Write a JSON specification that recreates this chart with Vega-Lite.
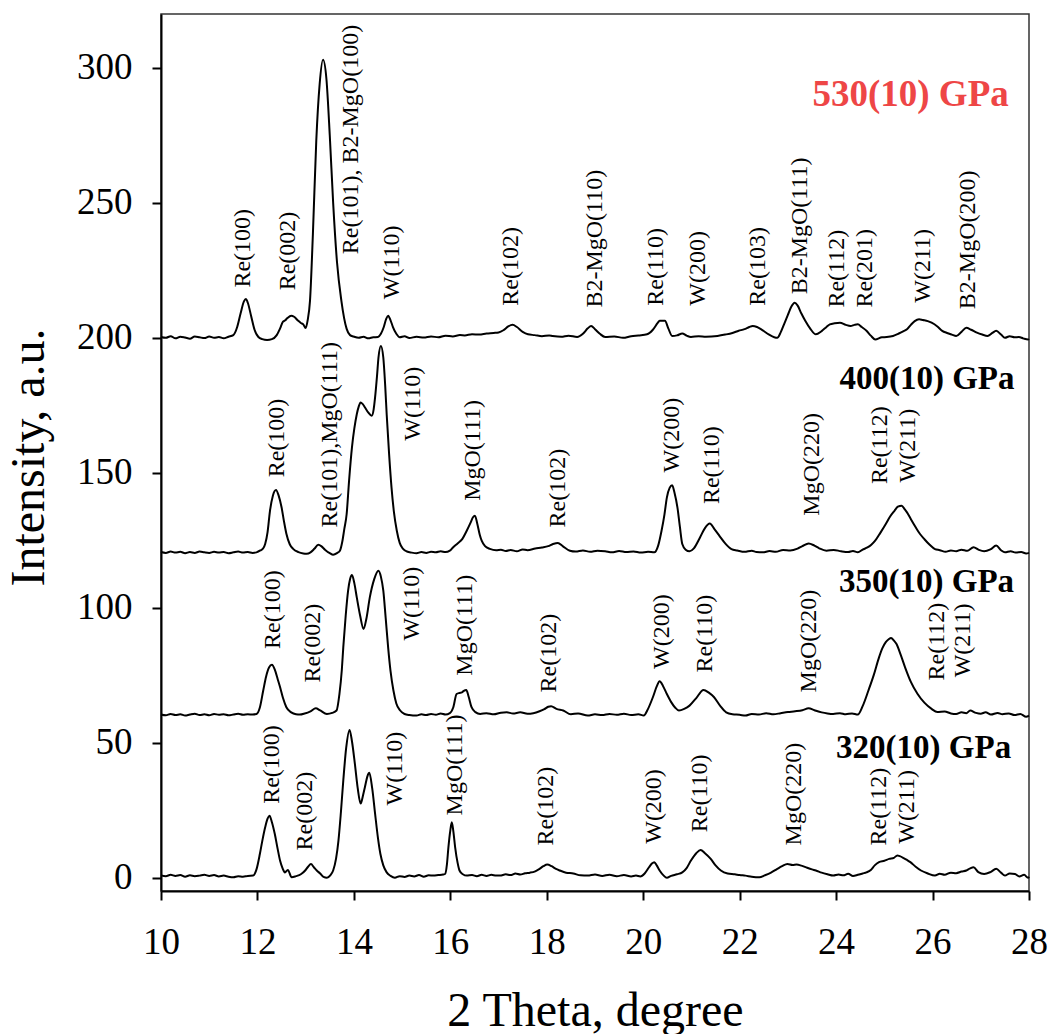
{
  "$schema": "https://vega.github.io/schema/vega-lite/v6.json",
  "autosize": "none",
  "width": 868,
  "height": 877,
  "padding": {"left": 161, "top": 14, "right": 21, "bottom": 143},
  "background": "white",
  "config": {"view": {"stroke": "#333", "strokeWidth": 1.5}},
  "datasets": {
    "spec": [
      {"s":"530","x":10.0,"y":200.3},{"s":"530","x":10.1,"y":200.0},{"s":"530","x":10.2,"y":200.6},{"s":"530","x":10.3,"y":199.8},{"s":"530","x":10.4,"y":200.4},{"s":"530","x":10.5,"y":200.1},{"s":"530","x":10.6,"y":199.7},{"s":"530","x":10.7,"y":200.5},{"s":"530","x":10.8,"y":200.2},{"s":"530","x":10.9,"y":199.9},{"s":"530","x":11.0,"y":200.5},{"s":"530","x":11.1,"y":200.0},{"s":"530","x":11.2,"y":200.3},{"s":"530","x":11.3,"y":199.8},{"s":"530","x":11.4,"y":200.4},{"s":"530","x":11.5,"y":201.0},{"s":"530","x":11.58,"y":204},{"s":"530","x":11.65,"y":209},{"s":"530","x":11.72,"y":213.5},{"s":"530","x":11.76,"y":214.4},{"s":"530","x":11.8,"y":213},{"s":"530","x":11.87,"y":208},{"s":"530","x":11.94,"y":203},{"s":"530","x":12.02,"y":200.3},{"s":"530","x":12.1,"y":199.5},{"s":"530","x":12.2,"y":199.2},{"s":"530","x":12.3,"y":199.5},{"s":"530","x":12.4,"y":201},{"s":"530","x":12.47,"y":203.5},{"s":"530","x":12.53,"y":206},{"s":"530","x":12.57,"y":206.4},{"s":"530","x":12.62,"y":207.3},{"s":"530","x":12.7,"y":208.2},{"s":"530","x":12.76,"y":207.8},{"s":"530","x":12.84,"y":206.4},{"s":"530","x":12.9,"y":205.5},{"s":"530","x":12.95,"y":205},{"s":"530","x":13.0,"y":203.6},{"s":"530","x":13.04,"y":206.4},{"s":"530","x":13.09,"y":213.8},{"s":"530","x":13.15,"y":238.5},{"s":"530","x":13.22,"y":273},{"s":"530","x":13.29,"y":294},{"s":"530","x":13.36,"y":303},{"s":"530","x":13.43,"y":296},{"s":"530","x":13.5,"y":275},{"s":"530","x":13.57,"y":250},{"s":"530","x":13.65,"y":228},{"s":"530","x":13.74,"y":213.8},{"s":"530","x":13.85,"y":203.3},{"s":"530","x":13.92,"y":201},{"s":"530","x":13.99,"y":200.5},{"s":"530","x":14.1,"y":200},{"s":"530","x":14.2,"y":200.4},{"s":"530","x":14.3,"y":199.8},{"s":"530","x":14.4,"y":200.2},{"s":"530","x":14.5,"y":200.3},{"s":"530","x":14.56,"y":201.5},{"s":"530","x":14.62,"y":204},{"s":"530","x":14.67,"y":207},{"s":"530","x":14.71,"y":208.2},{"s":"530","x":14.76,"y":206.5},{"s":"530","x":14.81,"y":204},{"s":"530","x":14.88,"y":201.5},{"s":"530","x":14.95,"y":200.2},{"s":"530","x":15.05,"y":200.6},{"s":"530","x":15.15,"y":199.9},{"s":"530","x":15.3,"y":200.4},{"s":"530","x":15.45,"y":200.1},{"s":"530","x":15.6,"y":200.5},{"s":"530","x":15.75,"y":200.2},{"s":"530","x":15.9,"y":200.8},{"s":"530","x":16.05,"y":200.5},{"s":"530","x":16.2,"y":201},{"s":"530","x":16.3,"y":200.9},{"s":"530","x":16.45,"y":201.3},{"s":"530","x":16.6,"y":201.2},{"s":"530","x":16.75,"y":201.6},{"s":"530","x":16.9,"y":201.8},{"s":"530","x":17.0,"y":202},{"s":"530","x":17.1,"y":202.8},{"s":"530","x":17.2,"y":204.2},{"s":"530","x":17.29,"y":204.8},{"s":"530","x":17.38,"y":204},{"s":"530","x":17.5,"y":202.2},{"s":"530","x":17.61,"y":201.3},{"s":"530","x":17.75,"y":201},{"s":"530","x":17.9,"y":200.6},{"s":"530","x":18.05,"y":200.9},{"s":"530","x":18.12,"y":200.7},{"s":"530","x":18.3,"y":200.4},{"s":"530","x":18.45,"y":200.8},{"s":"530","x":18.63,"y":200.3},{"s":"530","x":18.75,"y":201.5},{"s":"530","x":18.85,"y":203.5},{"s":"530","x":18.92,"y":204.4},{"s":"530","x":19.0,"y":203.2},{"s":"530","x":19.1,"y":201.5},{"s":"530","x":19.21,"y":200.3},{"s":"530","x":19.4,"y":200.5},{"s":"530","x":19.58,"y":200},{"s":"530","x":19.75,"y":200.6},{"s":"530","x":19.9,"y":200.9},{"s":"530","x":20.08,"y":201.3},{"s":"530","x":20.2,"y":203},{"s":"530","x":20.3,"y":205.5},{"s":"530","x":20.34,"y":206.3},{"s":"530","x":20.45,"y":206.3},{"s":"530","x":20.52,"y":203.5},{"s":"530","x":20.6,"y":200.7},{"s":"530","x":20.7,"y":200.9},{"s":"530","x":20.81,"y":201.6},{"s":"530","x":20.9,"y":200.8},{"s":"530","x":20.99,"y":200.3},{"s":"530","x":21.15,"y":200.6},{"s":"530","x":21.3,"y":200.4},{"s":"530","x":21.54,"y":200.7},{"s":"530","x":21.7,"y":201.2},{"s":"530","x":21.85,"y":201.8},{"s":"530","x":21.98,"y":202.6},{"s":"530","x":22.1,"y":203.2},{"s":"530","x":22.2,"y":204},{"s":"530","x":22.27,"y":204.4},{"s":"530","x":22.36,"y":204},{"s":"530","x":22.44,"y":203.2},{"s":"530","x":22.6,"y":201.3},{"s":"530","x":22.78,"y":200},{"s":"530","x":22.85,"y":202},{"s":"530","x":22.92,"y":205},{"s":"530","x":23.0,"y":208.5},{"s":"530","x":23.07,"y":211.5},{"s":"530","x":23.14,"y":213},{"s":"530","x":23.2,"y":212},{"s":"530","x":23.28,"y":209},{"s":"530","x":23.36,"y":206.3},{"s":"530","x":23.46,"y":203.5},{"s":"530","x":23.58,"y":201.3},{"s":"530","x":23.7,"y":202.5},{"s":"530","x":23.8,"y":204},{"s":"530","x":23.87,"y":205},{"s":"530","x":23.97,"y":205.4},{"s":"530","x":24.08,"y":205.6},{"s":"530","x":24.2,"y":204.8},{"s":"530","x":24.3,"y":204.4},{"s":"530","x":24.38,"y":204.8},{"s":"530","x":24.45,"y":205},{"s":"530","x":24.53,"y":204},{"s":"530","x":24.63,"y":202.6},{"s":"530","x":24.72,"y":200.8},{"s":"530","x":24.81,"y":199.4},{"s":"530","x":24.95,"y":200.2},{"s":"530","x":25.05,"y":200.3},{"s":"530","x":25.18,"y":200.7},{"s":"530","x":25.3,"y":201.6},{"s":"530","x":25.4,"y":202.5},{"s":"530","x":25.47,"y":203.2},{"s":"530","x":25.55,"y":204.8},{"s":"530","x":25.63,"y":206.2},{"s":"530","x":25.72,"y":206.9},{"s":"530","x":25.8,"y":206.6},{"s":"530","x":25.9,"y":206.2},{"s":"530","x":25.98,"y":205.6},{"s":"530","x":26.1,"y":204.2},{"s":"530","x":26.2,"y":202.6},{"s":"530","x":26.3,"y":201.8},{"s":"530","x":26.4,"y":201.2},{"s":"530","x":26.49,"y":200.7},{"s":"530","x":26.6,"y":202.2},{"s":"530","x":26.7,"y":203.7},{"s":"530","x":26.8,"y":203},{"s":"530","x":26.92,"y":201.9},{"s":"530","x":27.03,"y":201.2},{"s":"530","x":27.14,"y":200.7},{"s":"530","x":27.24,"y":201.8},{"s":"530","x":27.32,"y":202.6},{"s":"530","x":27.42,"y":201.2},{"s":"530","x":27.5,"y":200},{"s":"530","x":27.6,"y":200.6},{"s":"530","x":27.7,"y":200.2},{"s":"530","x":27.79,"y":200.3},{"s":"530","x":27.88,"y":199.8},{"s":"530","x":27.98,"y":199.4},{"s":"530","x":28.0,"y":199.6},

      {"s":"400","x":10.0,"y":120.6},{"s":"400","x":10.1,"y":120.3},{"s":"400","x":10.2,"y":120.8},{"s":"400","x":10.3,"y":120.4},{"s":"400","x":10.4,"y":120.7},{"s":"400","x":10.5,"y":120.2},{"s":"400","x":10.6,"y":120.6},{"s":"400","x":10.7,"y":120.3},{"s":"400","x":10.8,"y":120.8},{"s":"400","x":10.9,"y":120.5},{"s":"400","x":11.0,"y":120.3},{"s":"400","x":11.1,"y":120.7},{"s":"400","x":11.2,"y":120.4},{"s":"400","x":11.3,"y":120.6},{"s":"400","x":11.4,"y":120.2},{"s":"400","x":11.5,"y":120.5},{"s":"400","x":11.6,"y":120.8},{"s":"400","x":11.7,"y":120.4},{"s":"400","x":11.8,"y":120.6},{"s":"400","x":11.9,"y":120.3},{"s":"400","x":11.98,"y":120.5},{"s":"400","x":12.06,"y":121.2},{"s":"400","x":12.12,"y":122},{"s":"400","x":12.16,"y":123.6},{"s":"400","x":12.21,"y":128},{"s":"400","x":12.26,"y":135.9},{"s":"400","x":12.32,"y":141.5},{"s":"400","x":12.385,"y":143.6},{"s":"400","x":12.44,"y":141.5},{"s":"400","x":12.5,"y":137.2},{"s":"400","x":12.55,"y":132},{"s":"400","x":12.6,"y":127.4},{"s":"400","x":12.67,"y":123.5},{"s":"400","x":12.74,"y":121.8},{"s":"400","x":12.85,"y":120.6},{"s":"400","x":12.95,"y":120.1},{"s":"400","x":13.02,"y":120},{"s":"400","x":13.1,"y":120.5},{"s":"400","x":13.18,"y":121.8},{"s":"400","x":13.26,"y":123.3},{"s":"400","x":13.33,"y":122.7},{"s":"400","x":13.4,"y":121.5},{"s":"400","x":13.5,"y":120.2},{"s":"400","x":13.57,"y":119.6},{"s":"400","x":13.65,"y":120.2},{"s":"400","x":13.71,"y":121.1},{"s":"400","x":13.76,"y":124.5},{"s":"400","x":13.8,"y":129},{"s":"400","x":13.85,"y":134.7},{"s":"400","x":13.9,"y":147},{"s":"400","x":13.96,"y":159.4},{"s":"400","x":14.01,"y":166.5},{"s":"400","x":14.06,"y":171.7},{"s":"400","x":14.1,"y":174.5},{"s":"400","x":14.14,"y":176},{"s":"400","x":14.18,"y":175.5},{"s":"400","x":14.23,"y":174.2},{"s":"400","x":14.3,"y":172.3},{"s":"400","x":14.37,"y":171.1},{"s":"400","x":14.41,"y":173.5},{"s":"400","x":14.44,"y":178},{"s":"400","x":14.48,"y":186},{"s":"400","x":14.51,"y":192.7},{"s":"400","x":14.56,"y":197},{"s":"400","x":14.61,"y":192.7},{"s":"400","x":14.65,"y":182},{"s":"400","x":14.68,"y":171.7},{"s":"400","x":14.73,"y":157},{"s":"400","x":14.78,"y":144.6},{"s":"400","x":14.83,"y":135.5},{"s":"400","x":14.89,"y":128.5},{"s":"400","x":14.95,"y":124},{"s":"400","x":15.02,"y":121.8},{"s":"400","x":15.1,"y":120.8},{"s":"400","x":15.2,"y":120.4},{"s":"400","x":15.3,"y":120.2},{"s":"400","x":15.4,"y":120.6},{"s":"400","x":15.5,"y":120.3},{"s":"400","x":15.6,"y":120.7},{"s":"400","x":15.7,"y":120.5},{"s":"400","x":15.8,"y":120.9},{"s":"400","x":15.9,"y":120.6},{"s":"400","x":15.99,"y":121.1},{"s":"400","x":16.06,"y":122.4},{"s":"400","x":16.15,"y":123.8},{"s":"400","x":16.25,"y":125.5},{"s":"400","x":16.34,"y":128.5},{"s":"400","x":16.42,"y":131.5},{"s":"400","x":16.47,"y":133.5},{"s":"400","x":16.51,"y":134.1},{"s":"400","x":16.56,"y":131},{"s":"400","x":16.61,"y":127},{"s":"400","x":16.65,"y":124.8},{"s":"400","x":16.72,"y":122.8},{"s":"400","x":16.82,"y":121.8},{"s":"400","x":16.95,"y":121.3},{"s":"400","x":17.05,"y":121.5},{"s":"400","x":17.15,"y":121},{"s":"400","x":17.25,"y":121.4},{"s":"400","x":17.38,"y":120.9},{"s":"400","x":17.5,"y":121.6},{"s":"400","x":17.6,"y":121.3},{"s":"400","x":17.76,"y":121.9},{"s":"400","x":17.9,"y":122.3},{"s":"400","x":18.03,"y":122.8},{"s":"400","x":18.13,"y":123.6},{"s":"400","x":18.23,"y":124},{"s":"400","x":18.33,"y":122.8},{"s":"400","x":18.48,"y":121.1},{"s":"400","x":18.6,"y":120.8},{"s":"400","x":18.75,"y":121.2},{"s":"400","x":18.9,"y":120.7},{"s":"400","x":19.05,"y":121.1},{"s":"400","x":19.21,"y":120.9},{"s":"400","x":19.35,"y":120.5},{"s":"400","x":19.5,"y":121},{"s":"400","x":19.65,"y":120.6},{"s":"400","x":19.8,"y":120.8},{"s":"400","x":19.95,"y":120.4},{"s":"400","x":20.1,"y":120.7},{"s":"400","x":20.23,"y":120.5},{"s":"400","x":20.31,"y":123},{"s":"400","x":20.38,"y":128.5},{"s":"400","x":20.44,"y":134.5},{"s":"400","x":20.49,"y":140.8},{"s":"400","x":20.55,"y":144.5},{"s":"400","x":20.6,"y":145.4},{"s":"400","x":20.65,"y":142.5},{"s":"400","x":20.71,"y":137.1},{"s":"400","x":20.76,"y":130},{"s":"400","x":20.81,"y":123.6},{"s":"400","x":20.88,"y":121.5},{"s":"400","x":20.96,"y":120.9},{"s":"400","x":21.05,"y":122},{"s":"400","x":21.18,"y":126.1},{"s":"400","x":21.28,"y":129.5},{"s":"400","x":21.38,"y":131.2},{"s":"400","x":21.48,"y":129},{"s":"400","x":21.58,"y":126.6},{"s":"400","x":21.7,"y":123.8},{"s":"400","x":21.83,"y":121.7},{"s":"400","x":21.95,"y":121.2},{"s":"400","x":22.1,"y":120.7},{"s":"400","x":22.25,"y":121.1},{"s":"400","x":22.35,"y":120.6},{"s":"400","x":22.48,"y":120.5},{"s":"400","x":22.62,"y":121},{"s":"400","x":22.75,"y":120.7},{"s":"400","x":22.9,"y":121.4},{"s":"400","x":23.05,"y":121.2},{"s":"400","x":23.2,"y":121.9},{"s":"400","x":23.3,"y":122.8},{"s":"400","x":23.43,"y":123.8},{"s":"400","x":23.55,"y":123},{"s":"400","x":23.65,"y":122},{"s":"400","x":23.8,"y":121.1},{"s":"400","x":23.95,"y":121.4},{"s":"400","x":24.1,"y":120.9},{"s":"400","x":24.25,"y":120.6},{"s":"400","x":24.35,"y":121},{"s":"400","x":24.45,"y":120.5},{"s":"400","x":24.55,"y":121.5},{"s":"400","x":24.65,"y":122.3},{"s":"400","x":24.73,"y":123.3},{"s":"400","x":24.81,"y":124.8},{"s":"400","x":24.92,"y":127.8},{"s":"400","x":25.03,"y":131},{"s":"400","x":25.12,"y":133.8},{"s":"400","x":25.21,"y":135.9},{"s":"400","x":25.28,"y":137.4},{"s":"400","x":25.36,"y":137.8},{"s":"400","x":25.42,"y":136.5},{"s":"400","x":25.47,"y":135.3},{"s":"400","x":25.56,"y":132.5},{"s":"400","x":25.65,"y":129.8},{"s":"400","x":25.74,"y":127.3},{"s":"400","x":25.83,"y":125.4},{"s":"400","x":25.94,"y":123.3},{"s":"400","x":26.05,"y":121.7},{"s":"400","x":26.15,"y":121.3},{"s":"400","x":26.27,"y":120.7},{"s":"400","x":26.38,"y":121.2},{"s":"400","x":26.49,"y":120.9},{"s":"400","x":26.6,"y":121.5},{"s":"400","x":26.72,"y":121.1},{"s":"400","x":26.85,"y":122.4},{"s":"400","x":26.96,"y":121.4},{"s":"400","x":27.07,"y":120.9},{"s":"400","x":27.2,"y":121.6},{"s":"400","x":27.32,"y":123},{"s":"400","x":27.42,"y":121.3},{"s":"400","x":27.5,"y":120.5},{"s":"400","x":27.62,"y":120.9},{"s":"400","x":27.72,"y":120.4},{"s":"400","x":27.84,"y":120.6},{"s":"400","x":27.94,"y":120.1},{"s":"400","x":28.0,"y":120.3},

      {"s":"350","x":10.0,"y":60.4},{"s":"350","x":10.1,"y":60.1},{"s":"350","x":10.2,"y":60.6},{"s":"350","x":10.3,"y":60.2},{"s":"350","x":10.4,"y":60.5},{"s":"350","x":10.5,"y":60.0},{"s":"350","x":10.6,"y":60.4},{"s":"350","x":10.7,"y":60.7},{"s":"350","x":10.8,"y":60.2},{"s":"350","x":10.9,"y":60.5},{"s":"350","x":11.0,"y":60.1},{"s":"350","x":11.1,"y":60.6},{"s":"350","x":11.2,"y":60.3},{"s":"350","x":11.3,"y":60.5},{"s":"350","x":11.4,"y":60.1},{"s":"350","x":11.5,"y":60.4},{"s":"350","x":11.6,"y":60.7},{"s":"350","x":11.7,"y":60.3},{"s":"350","x":11.8,"y":60.5},{"s":"350","x":11.9,"y":60.4},{"s":"350","x":11.98,"y":60.6},{"s":"350","x":12.05,"y":63},{"s":"350","x":12.12,"y":69.3},{"s":"350","x":12.18,"y":74.5},{"s":"350","x":12.24,"y":77.8},{"s":"350","x":12.3,"y":78.8},{"s":"350","x":12.36,"y":77},{"s":"350","x":12.42,"y":73.5},{"s":"350","x":12.47,"y":70.5},{"s":"350","x":12.53,"y":66.5},{"s":"350","x":12.6,"y":63.1},{"s":"350","x":12.7,"y":61.2},{"s":"350","x":12.8,"y":60.5},{"s":"350","x":12.88,"y":60.4},{"s":"350","x":12.98,"y":60.8},{"s":"350","x":13.1,"y":61.6},{"s":"350","x":13.21,"y":62.7},{"s":"350","x":13.3,"y":61.9},{"s":"350","x":13.44,"y":60.6},{"s":"350","x":13.55,"y":61},{"s":"350","x":13.64,"y":61.9},{"s":"350","x":13.7,"y":68},{"s":"350","x":13.75,"y":77},{"s":"350","x":13.78,"y":85.3},{"s":"350","x":13.83,"y":97},{"s":"350","x":13.88,"y":106.3},{"s":"350","x":13.92,"y":110.5},{"s":"350","x":13.96,"y":112.1},{"s":"350","x":14.01,"y":109},{"s":"350","x":14.06,"y":103.8},{"s":"350","x":14.13,"y":97},{"s":"350","x":14.2,"y":92.1},{"s":"350","x":14.26,"y":96},{"s":"350","x":14.33,"y":103.8},{"s":"350","x":14.42,"y":110.5},{"s":"350","x":14.51,"y":113.7},{"s":"350","x":14.56,"y":111.5},{"s":"350","x":14.61,"y":106.3},{"s":"350","x":14.66,"y":96},{"s":"350","x":14.71,"y":85.3},{"s":"350","x":14.76,"y":76.5},{"s":"350","x":14.82,"y":69.3},{"s":"350","x":14.88,"y":64.5},{"s":"350","x":14.96,"y":61.9},{"s":"350","x":15.05,"y":60.6},{"s":"350","x":15.15,"y":60.2},{"s":"350","x":15.3,"y":60},{"s":"350","x":15.4,"y":60.5},{"s":"350","x":15.5,"y":60.2},{"s":"350","x":15.6,"y":60.6},{"s":"350","x":15.7,"y":60.3},{"s":"350","x":15.8,"y":60.8},{"s":"350","x":15.9,"y":60.4},{"s":"350","x":15.99,"y":60.9},{"s":"350","x":16.06,"y":63},{"s":"350","x":16.13,"y":68},{"s":"350","x":16.19,"y":68.4},{"s":"350","x":16.24,"y":68.6},{"s":"350","x":16.28,"y":69.2},{"s":"350","x":16.33,"y":69.5},{"s":"350","x":16.38,"y":67},{"s":"350","x":16.44,"y":63.1},{"s":"350","x":16.52,"y":61.3},{"s":"350","x":16.62,"y":60.6},{"s":"350","x":16.75,"y":60.9},{"s":"350","x":16.9,"y":60.5},{"s":"350","x":17.05,"y":61.1},{"s":"350","x":17.17,"y":61.2},{"s":"350","x":17.3,"y":60.8},{"s":"350","x":17.45,"y":61.2},{"s":"350","x":17.6,"y":60.7},{"s":"350","x":17.72,"y":60.9},{"s":"350","x":17.85,"y":61.6},{"s":"350","x":17.95,"y":62.4},{"s":"350","x":18.03,"y":63.3},{"s":"350","x":18.09,"y":63.5},{"s":"350","x":18.2,"y":62.5},{"s":"350","x":18.34,"y":61.9},{"s":"350","x":18.5,"y":60.5},{"s":"350","x":18.65,"y":60.8},{"s":"350","x":18.85,"y":60},{"s":"350","x":19.0,"y":60.5},{"s":"350","x":19.15,"y":60.2},{"s":"350","x":19.3,"y":60.6},{"s":"350","x":19.45,"y":60.3},{"s":"350","x":19.6,"y":60.7},{"s":"350","x":19.75,"y":60.2},{"s":"350","x":19.9,"y":60.5},{"s":"350","x":20.01,"y":60},{"s":"350","x":20.1,"y":62.5},{"s":"350","x":20.2,"y":66.8},{"s":"350","x":20.28,"y":70.8},{"s":"350","x":20.34,"y":72.7},{"s":"350","x":20.41,"y":71},{"s":"350","x":20.49,"y":68},{"s":"350","x":20.58,"y":65},{"s":"350","x":20.66,"y":63},{"s":"350","x":20.74,"y":61.9},{"s":"350","x":20.85,"y":62.5},{"s":"350","x":20.96,"y":63.7},{"s":"350","x":21.1,"y":66.5},{"s":"350","x":21.25,"y":69.5},{"s":"350","x":21.36,"y":68.5},{"s":"350","x":21.47,"y":66.8},{"s":"350","x":21.6,"y":63.5},{"s":"350","x":21.72,"y":61.2},{"s":"350","x":21.85,"y":60.5},{"s":"350","x":22.0,"y":60.3},{"s":"350","x":22.12,"y":60},{"s":"350","x":22.25,"y":60.6},{"s":"350","x":22.4,"y":60.4},{"s":"350","x":22.55,"y":60.9},{"s":"350","x":22.7,"y":60.5},{"s":"350","x":22.85,"y":60.9},{"s":"350","x":23.0,"y":61.3},{"s":"350","x":23.15,"y":61.6},{"s":"350","x":23.3,"y":62},{"s":"350","x":23.43,"y":62.7},{"s":"350","x":23.55,"y":62},{"s":"350","x":23.7,"y":61.2},{"s":"350","x":23.82,"y":60.8},{"s":"350","x":23.94,"y":60.6},{"s":"350","x":24.08,"y":60.9},{"s":"350","x":24.2,"y":60.5},{"s":"350","x":24.33,"y":60.8},{"s":"350","x":24.45,"y":60.4},{"s":"350","x":24.55,"y":63.5},{"s":"350","x":24.67,"y":69.3},{"s":"350","x":24.78,"y":75},{"s":"350","x":24.89,"y":81.6},{"s":"350","x":24.96,"y":85},{"s":"350","x":25.03,"y":87.2},{"s":"350","x":25.09,"y":88.3},{"s":"350","x":25.14,"y":88.8},{"s":"350","x":25.2,"y":87.8},{"s":"350","x":25.25,"y":86.6},{"s":"350","x":25.34,"y":82.5},{"s":"350","x":25.43,"y":77.9},{"s":"350","x":25.55,"y":72.5},{"s":"350","x":25.69,"y":68},{"s":"350","x":25.83,"y":64.8},{"s":"350","x":25.98,"y":62.5},{"s":"350","x":26.1,"y":61.3},{"s":"350","x":26.25,"y":61.5},{"s":"350","x":26.38,"y":60.8},{"s":"350","x":26.49,"y":60.6},{"s":"350","x":26.6,"y":61.2},{"s":"350","x":26.7,"y":60.9},{"s":"350","x":26.78,"y":61.9},{"s":"350","x":26.9,"y":61},{"s":"350","x":27.0,"y":60.7},{"s":"350","x":27.1,"y":61.2},{"s":"350","x":27.21,"y":60.4},{"s":"350","x":27.35,"y":61},{"s":"350","x":27.45,"y":60.5},{"s":"350","x":27.58,"y":60.8},{"s":"350","x":27.7,"y":60.2},{"s":"350","x":27.82,"y":60.6},{"s":"350","x":27.94,"y":59.6},{"s":"350","x":28.0,"y":60},

      {"s":"320","x":10.0,"y":0.8},{"s":"320","x":10.1,"y":0.5},{"s":"320","x":10.2,"y":1.0},{"s":"320","x":10.3,"y":0.6},{"s":"320","x":10.4,"y":0.9},{"s":"320","x":10.5,"y":0.3},{"s":"320","x":10.6,"y":0.8},{"s":"320","x":10.7,"y":0.5},{"s":"320","x":10.8,"y":0.7},{"s":"320","x":10.9,"y":1.0},{"s":"320","x":11.0,"y":0.6},{"s":"320","x":11.1,"y":0.9},{"s":"320","x":11.2,"y":0.4},{"s":"320","x":11.3,"y":0.7},{"s":"320","x":11.4,"y":0.3},{"s":"320","x":11.5,"y":0.1},{"s":"320","x":11.6,"y":0.5},{"s":"320","x":11.7,"y":0.3},{"s":"320","x":11.8,"y":0.6},{"s":"320","x":11.91,"y":0.7},{"s":"320","x":11.98,"y":3},{"s":"320","x":12.05,"y":8.7},{"s":"320","x":12.1,"y":13.5},{"s":"320","x":12.16,"y":18.6},{"s":"320","x":12.21,"y":21.8},{"s":"320","x":12.25,"y":22.9},{"s":"320","x":12.3,"y":20.5},{"s":"320","x":12.36,"y":16.1},{"s":"320","x":12.42,"y":10.5},{"s":"320","x":12.47,"y":6.2},{"s":"320","x":12.52,"y":3.5},{"s":"320","x":12.57,"y":1.9},{"s":"320","x":12.63,"y":2.8},{"s":"320","x":12.71,"y":0.1},{"s":"320","x":12.8,"y":0.5},{"s":"320","x":12.9,"y":1.2},{"s":"320","x":12.99,"y":2.6},{"s":"320","x":13.05,"y":4},{"s":"320","x":13.11,"y":5},{"s":"320","x":13.17,"y":3.8},{"s":"320","x":13.23,"y":2.6},{"s":"320","x":13.3,"y":1.5},{"s":"320","x":13.37,"y":0.2},{"s":"320","x":13.44,"y":-0.1},{"s":"320","x":13.51,"y":0.8},{"s":"320","x":13.57,"y":2.6},{"s":"320","x":13.63,"y":7},{"s":"320","x":13.68,"y":13.7},{"s":"320","x":13.73,"y":24},{"s":"320","x":13.78,"y":35.9},{"s":"320","x":13.84,"y":48},{"s":"320","x":13.91,"y":54.7},{"s":"320","x":13.96,"y":50.5},{"s":"320","x":14.02,"y":42.2},{"s":"320","x":14.08,"y":33},{"s":"320","x":14.14,"y":27.4},{"s":"320","x":14.19,"y":30.5},{"s":"320","x":14.23,"y":33.6},{"s":"320","x":14.28,"y":37.5},{"s":"320","x":14.32,"y":38.8},{"s":"320","x":14.38,"y":33},{"s":"320","x":14.44,"y":23.6},{"s":"320","x":14.5,"y":14.5},{"s":"320","x":14.55,"y":8.7},{"s":"320","x":14.61,"y":4.5},{"s":"320","x":14.68,"y":1.9},{"s":"320","x":14.76,"y":0.6},{"s":"320","x":14.85,"y":-0.1},{"s":"320","x":14.95,"y":0.5},{"s":"320","x":15.05,"y":0.2},{"s":"320","x":15.15,"y":0.7},{"s":"320","x":15.25,"y":0.4},{"s":"320","x":15.35,"y":0.9},{"s":"320","x":15.45,"y":0.3},{"s":"320","x":15.55,"y":0.8},{"s":"320","x":15.65,"y":0.7},{"s":"320","x":15.75,"y":0.9},{"s":"320","x":15.85,"y":1.1},{"s":"320","x":15.89,"y":1.3},{"s":"320","x":15.93,"y":5},{"s":"320","x":15.96,"y":11.2},{"s":"320","x":16.0,"y":17.5},{"s":"320","x":16.03,"y":20.5},{"s":"320","x":16.06,"y":17.5},{"s":"320","x":16.1,"y":11.2},{"s":"320","x":16.15,"y":5.5},{"s":"320","x":16.19,"y":2.6},{"s":"320","x":16.26,"y":1.2},{"s":"320","x":16.34,"y":0.7},{"s":"320","x":16.45,"y":0.9},{"s":"320","x":16.55,"y":0.5},{"s":"320","x":16.65,"y":1.0},{"s":"320","x":16.75,"y":0.6},{"s":"320","x":16.85,"y":1.0},{"s":"320","x":16.95,"y":0.7},{"s":"320","x":17.03,"y":0.7},{"s":"320","x":17.15,"y":1.2},{"s":"320","x":17.25,"y":0.9},{"s":"320","x":17.35,"y":1.5},{"s":"320","x":17.45,"y":1.1},{"s":"320","x":17.55,"y":1.6},{"s":"320","x":17.65,"y":1.8},{"s":"320","x":17.76,"y":2.3},{"s":"320","x":17.85,"y":3.2},{"s":"320","x":17.93,"y":4.2},{"s":"320","x":18.01,"y":4.8},{"s":"320","x":18.1,"y":4.2},{"s":"320","x":18.19,"y":3.2},{"s":"320","x":18.27,"y":2.6},{"s":"320","x":18.4,"y":1.8},{"s":"320","x":18.55,"y":1.5},{"s":"320","x":18.7,"y":0.8},{"s":"320","x":18.85,"y":0.7},{"s":"320","x":19.0,"y":1.1},{"s":"320","x":19.15,"y":0.6},{"s":"320","x":19.3,"y":1.0},{"s":"320","x":19.45,"y":0.5},{"s":"320","x":19.6,"y":0.9},{"s":"320","x":19.75,"y":0.4},{"s":"320","x":19.85,"y":0.7},{"s":"320","x":19.94,"y":0.4},{"s":"320","x":20.03,"y":1.5},{"s":"320","x":20.12,"y":3.8},{"s":"320","x":20.18,"y":5.2},{"s":"320","x":20.23,"y":5.7},{"s":"320","x":20.28,"y":4.5},{"s":"320","x":20.34,"y":2.6},{"s":"320","x":20.42,"y":0.8},{"s":"320","x":20.49,"y":-0.1},{"s":"320","x":20.58,"y":0.6},{"s":"320","x":20.7,"y":1.2},{"s":"320","x":20.81,"y":1.9},{"s":"320","x":20.9,"y":3.5},{"s":"320","x":20.99,"y":6.3},{"s":"320","x":21.1,"y":9},{"s":"320","x":21.19,"y":10.2},{"s":"320","x":21.28,"y":9},{"s":"320","x":21.4,"y":6.9},{"s":"320","x":21.5,"y":4.5},{"s":"320","x":21.61,"y":2.6},{"s":"320","x":21.75,"y":1.5},{"s":"320","x":21.9,"y":1.2},{"s":"320","x":22.0,"y":0.9},{"s":"320","x":22.12,"y":0.7},{"s":"320","x":22.25,"y":0.3},{"s":"320","x":22.41,"y":0.1},{"s":"320","x":22.52,"y":0.8},{"s":"320","x":22.65,"y":1.8},{"s":"320","x":22.78,"y":3.2},{"s":"320","x":22.88,"y":4.2},{"s":"320","x":22.99,"y":5},{"s":"320","x":23.1,"y":4.6},{"s":"320","x":23.18,"y":4.8},{"s":"320","x":23.28,"y":4.4},{"s":"320","x":23.4,"y":3.6},{"s":"320","x":23.5,"y":3},{"s":"320","x":23.58,"y":2.6},{"s":"320","x":23.7,"y":1.8},{"s":"320","x":23.82,"y":1.2},{"s":"320","x":23.94,"y":0.7},{"s":"320","x":24.05,"y":1.1},{"s":"320","x":24.15,"y":0.8},{"s":"320","x":24.25,"y":1.4},{"s":"320","x":24.35,"y":0.6},{"s":"320","x":24.45,"y":1.0},{"s":"320","x":24.55,"y":1.5},{"s":"320","x":24.63,"y":1.9},{"s":"320","x":24.72,"y":2.8},{"s":"320","x":24.8,"y":4.5},{"s":"320","x":24.89,"y":5.7},{"s":"320","x":25.0,"y":6.2},{"s":"320","x":25.1,"y":6.9},{"s":"320","x":25.2,"y":7.3},{"s":"320","x":25.27,"y":8.2},{"s":"320","x":25.32,"y":7.9},{"s":"320","x":25.4,"y":7.2},{"s":"320","x":25.47,"y":6.5},{"s":"320","x":25.54,"y":5.7},{"s":"320","x":25.65,"y":4},{"s":"320","x":25.76,"y":2.6},{"s":"320","x":25.9,"y":1.5},{"s":"320","x":26.05,"y":0.7},{"s":"320","x":26.15,"y":1.4},{"s":"320","x":26.25,"y":1.0},{"s":"320","x":26.38,"y":1.8},{"s":"320","x":26.49,"y":1.6},{"s":"320","x":26.6,"y":2.2},{"s":"320","x":26.7,"y":2.6},{"s":"320","x":26.78,"y":3.4},{"s":"320","x":26.85,"y":3.8},{"s":"320","x":26.95,"y":2.0},{"s":"320","x":27.07,"y":1.3},{"s":"320","x":27.2,"y":2.0},{"s":"320","x":27.32,"y":3.2},{"s":"320","x":27.42,"y":1.8},{"s":"320","x":27.5,"y":0.7},{"s":"320","x":27.6,"y":1.5},{"s":"320","x":27.71,"y":1.3},{"s":"320","x":27.8,"y":0.4},{"s":"320","x":27.9,"y":1.0},{"s":"320","x":27.98,"y":-0.1},{"s":"320","x":28.0,"y":0.3}
    ],
    "lab": [
      {"x":11.71,"y":218.6,"t":"Re(100)"},{"x":12.64,"y":217.6,"t":"Re(002)"},{"x":13.95,"y":231,"t":"Re(101), B2-MgO(100)"},{"x":14.78,"y":214.3,"t":"W(110)"},
      {"x":17.25,"y":211.9,"t":"Re(102)"},{"x":18.99,"y":211.2,"t":"B2-MgO(110)"},{"x":20.27,"y":211.9,"t":"Re(110)"},{"x":21.14,"y":211.9,"t":"W(200)"},{"x":22.38,"y":211.9,"t":"Re(103)"},{"x":23.25,"y":216.1,"t":"B2-MgO(111)"},{"x":24.01,"y":211.2,"t":"Re(112)"},{"x":24.6,"y":211.2,"t":"Re(201)"},{"x":25.8,"y":213,"t":"W(211)"},{"x":26.74,"y":210.6,"t":"B2-MgO(200)"},
      {"x":12.4,"y":148.3,"t":"Re(100)"},{"x":13.5,"y":129.7,"t":"Re(101),MgO(111)"},{"x":15.23,"y":161.9,"t":"W(110)"},{"x":16.48,"y":139.6,"t":"MgO(111)"},{"x":18.23,"y":129.7,"t":"Re(102)"},{"x":20.6,"y":150.1,"t":"W(200)"},{"x":21.43,"y":138.4,"t":"Re(110)"},{"x":23.5,"y":134.1,"t":"MgO(220)"},{"x":24.92,"y":145.8,"t":"Re(112)"},{"x":25.5,"y":146.4,"t":"W(211)"},
      {"x":12.32,"y":84.7,"t":"Re(100)"},{"x":13.16,"y":72.3,"t":"Re(002)"},{"x":15.2,"y":87.8,"t":"W(110)"},{"x":16.3,"y":74.8,"t":"MgO(111)"},{"x":18.05,"y":68.6,"t":"Re(102)"},{"x":20.38,"y":77.3,"t":"W(200)"},{"x":21.29,"y":76,"t":"Re(110)"},{"x":23.43,"y":68.6,"t":"MgO(220)"},{"x":26.09,"y":73,"t":"Re(112)"},{"x":26.63,"y":74.2,"t":"W(211)"},
      {"x":12.3,"y":27.3,"t":"Re(100)"},{"x":12.99,"y":10,"t":"Re(002)"},{"x":14.85,"y":26.7,"t":"W(110)"},{"x":16.1,"y":23,"t":"MgO(111)"},{"x":17.98,"y":11.9,"t":"Re(102)"},{"x":20.23,"y":12.5,"t":"W(200)"},{"x":21.18,"y":16.8,"t":"Re(110)"},{"x":23.13,"y":11.9,"t":"MgO(220)"},{"x":24.89,"y":11.9,"t":"Re(112)"},{"x":25.47,"y":12.5,"t":"W(211)"}
    ],
    "press": [
      {"x":27.7,"y":181,"t":"400(10) GPa"},{"x":27.69,"y":105.7,"t":"350(10) GPa"},{"x":27.63,"y":44.3,"t":"320(10) GPa"}
    ],
    "hot": [
      {"x":27.58,"y":285.9,"t":"530(10) GPa"}
    ]
  },
  "encoding": {
    "x": {
      "field": "x", "type": "quantitative",
      "scale": {"domain": [10, 28], "nice": false, "zero": false},
      "axis": {
        "values": [10,12,14,16,18,20,22,24,26,28],
        "grid": false, "domainColor": "black", "domainWidth": 2,
        "tickColor": "black", "tickWidth": 2, "tickSize": 9,
        "labelFont": "Liberation Serif", "labelFontSize": 37, "labelColor": "black", "labelPadding": 24,
        "labelFlush": false, "labelOverlap": false,
        "title": "2 Theta, degree", "titleFont": "Liberation Serif", "titleFontSize": 48,
        "titleFontWeight": "normal", "titleColor": "black", "titleBaseline": "alphabetic", "titleY": 134
      }
    },
    "y": {
      "field": "y", "type": "quantitative",
      "scale": {"domain": [-5, 320], "nice": false, "zero": false},
      "axis": {
        "values": [0,50,100,150,200,250,300],
        "grid": false, "domainColor": "black", "domainWidth": 2,
        "tickColor": "black", "tickWidth": 2, "tickSize": 9,
        "labelFont": "Liberation Serif", "labelFontSize": 37, "labelColor": "black", "labelPadding": 20,
        "labelFlush": false, "labelOverlap": false,
        "title": "Intensity, a.u.", "titleFont": "Liberation Serif", "titleFontSize": 48,
        "titleFontWeight": "normal", "titleColor": "black", "titleAngle": 270,
        "titleBaseline": "alphabetic", "titleAlign": "center", "titleX": -118, "titleY": 443
      }
    }
  },
  "layer": [
    {
      "data": {"name": "spec"},
      "mark": {"type": "line", "color": "black", "strokeWidth": 2, "interpolate": "monotone"},
      "encoding": {"detail": {"field": "s", "type": "nominal"}}
    },
    {
      "data": {"name": "lab"},
      "mark": {"type": "text", "angle": 270, "align": "left", "baseline": "middle", "font": "Liberation Serif", "fontSize": 24, "color": "black"},
      "encoding": {"text": {"field": "t", "type": "nominal"}}
    },
    {
      "data": {"name": "press"},
      "mark": {"type": "text", "align": "right", "baseline": "alphabetic", "font": "Liberation Serif", "fontSize": 33, "fontWeight": "bold", "color": "black"},
      "encoding": {"text": {"field": "t", "type": "nominal"}}
    },
    {
      "data": {"name": "hot"},
      "mark": {"type": "text", "align": "right", "baseline": "alphabetic", "font": "Liberation Serif", "fontSize": 37, "fontWeight": "bold", "color": "#ee4646"},
      "encoding": {"text": {"field": "t", "type": "nominal"}}
    }
  ]
}
